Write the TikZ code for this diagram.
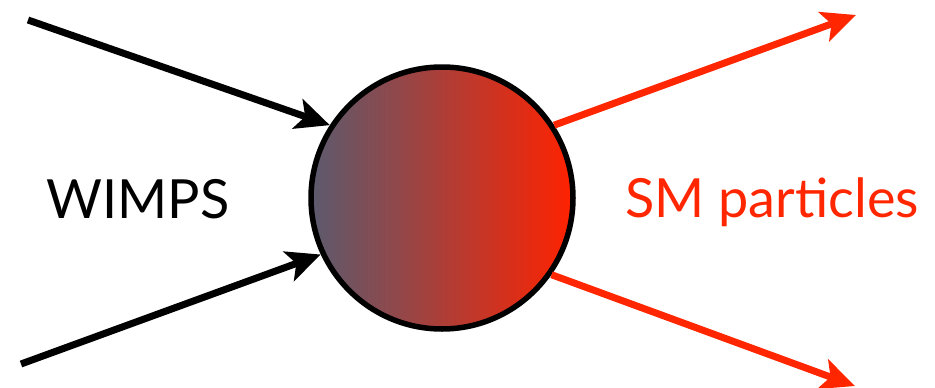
\documentclass[tikz,border=0pt]{standalone}
\usepackage{fontspec}
\setmainfont{Lato}
\usepackage{tikz}
\usetikzlibrary{arrows.meta,calc}
\definecolor{cInk}{HTML}{000000}
\definecolor{cOut}{HTML}{FF2600}
\definecolor{cCold}{HTML}{5B5A6E}
\definecolor{cHot}{HTML}{FF2200}

\begin{document}
\begin{tikzpicture}[
  x=1pt, y=-1pt,
  font=\fontsize{54}{60}\selectfont,
  inarrow/.style={-{Stealth[length=34pt, width=31pt, inset=8pt]}, cInk, line width=7pt},
  outarrow/.style={-{Stealth[length=34pt, width=31pt, inset=8pt]}, cOut, line width=7pt},
  blob/.style={circle, draw=cInk, line width=5.5pt, minimum size=262pt, inner sep=0pt,
    left color=cCold, right color=cHot},
  lbl/.style={anchor=base, inner sep=0pt},
]
\useasboundingbox (0,0) rectangle (935,388);

% ---------- interaction blob ----------
\node[blob] (vertex) at (442,198) {};

% ---------- incoming WIMPs ----------
\coordinate (w1) at (28,20);
\coordinate (w2) at (21,364);
\draw[inarrow] (w1) -- (vertex.147);
\draw[inarrow] (w2) -- (vertex.205);
\node[lbl, text=cInk] (wimps) at (138,218) {WIMPS};

% ---------- outgoing SM particles ----------
\coordinate (s1) at (856,15);
\coordinate (s2) at (855,386);
\draw[outarrow] (vertex.33) -- (s1);
\draw[outarrow] (vertex.-35) -- (s2);
\node[lbl, text=cOut] (sm) at (772,217) {SM particles};

\end{tikzpicture}
\end{document}
